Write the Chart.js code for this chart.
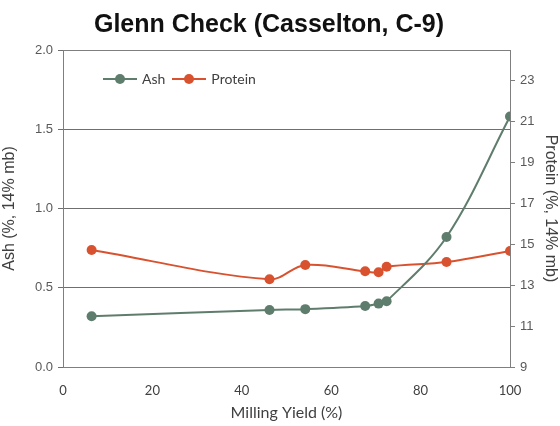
<!DOCTYPE html>
<html>
<head>
<meta charset="utf-8">
<script src="https://cdn.jsdelivr.net/npm/chart.js@4"></script>
<style>
  body { margin: 0; background: #fff; }
  #wrap { position: relative; width: 560px; height: 426px; }
  #title { position: absolute; left: 0; top: 9px; width: 538px; text-align: center;
           font: bold 25px "Liberation Sans", Arial, sans-serif; color: #111; }
  #legend { position: absolute; left: 103px; top: 70px; display: flex; align-items: center;
            font: 14px Lato, sans-serif; color: #404040; }
  .item { display: flex; align-items: center; margin-right: 7px; }
  .mark { position: relative; width: 34px; height: 2px; margin-right: 5px; }
  .mark span { position: absolute; left: 12px; top: -4px; width: 10px; height: 10px; border-radius: 50%; }
</style>
</head>
<body>
<div id="wrap">
  <canvas id="chart" width="560" height="426"></canvas>
  <div id="title">Glenn Check (Casselton, C-9)</div>
  <div id="legend"></div>
</div>
<script>
// dữ liệu
const millingYield = [6.4, 46.2, 54.2, 67.6, 70.6, 72.4, 85.8, 100];
const ashValues = [0.32, 0.36, 0.365, 0.385, 0.40, 0.415, 0.82, 1.58];
const proteinValues = [14.72, 13.29, 13.99, 13.68, 13.63, 13.90, 14.13, 14.67];
const xTicks = [0, 20, 40, 60, 80, 100];
const ashTicks = [0, 0.5, 1.0, 1.5, 2.0];
const proteinTicks = [9, 11, 13, 15, 17, 19, 21, 23];

const ashColor = '#5f7d6c';
const proteinColor = '#d9522f';
const axisGray = '#7f7f7f';

function toPoints(xs, ys) {
    return xs.map((x, i) => ({ x: x, y: ys[i] }));
}

const datasets = [
    {
        label: 'Ash',
        data: toPoints(millingYield, ashValues),
        yAxisID: 'y',
        borderColor: ashColor,
        backgroundColor: ashColor,
        borderWidth: 2,
        pointRadius: 5,
        pointBorderWidth: 0,
        tension: 0.35
    },
    {
        label: 'Protein',
        data: toPoints(millingYield, proteinValues),
        yAxisID: 'y2',
        borderColor: proteinColor,
        backgroundColor: proteinColor,
        borderWidth: 2,
        pointRadius: 5,
        pointBorderWidth: 0,
        tension: 0.35
    }
];

function fixTicks(values) {
    return function(scale) {
        scale.ticks = values.map(v => ({ value: v }));
    };
}

const grayTick = { family: '"Liberation Sans", Arial, sans-serif', size: 13 };

const chart = new Chart(document.getElementById('chart'), {
    type: 'line',
    data: { datasets: datasets },
    options: {
        responsive: false,
        animation: false,
        layout: { padding: { top: 50, left: 0, right: 0, bottom: 0 } },
        plugins: { legend: { display: false }, tooltip: { enabled: false } },
        scales: {
            x: {
                type: 'linear',
                min: 0, max: 100,
                afterBuildTicks: fixTicks(xTicks),
                afterFit: s => { s.height = 59; },
                grid: { display: false },
                border: { display: true, color: axisGray, width: 1 },
                ticks: { color: '#404040', font: { family: 'Lato, sans-serif', size: 13 }, padding: 8, maxRotation: 0 },
                title: { display: true, text: 'Milling Yield (%)', color: '#404040',
                         font: { family: 'Lato, sans-serif', size: 16 }, padding: { top: 2 } }
            },
            xTop: {
                type: 'linear',
                position: 'top',
                min: 0, max: 100,
                afterFit: s => { s.height = 0; },
                grid: { display: false },
                border: { display: true, color: axisGray, width: 1 },
                ticks: { display: false }
            },
            y: {
                position: 'left',
                min: 0, max: 2,
                afterBuildTicks: fixTicks(ashTicks),
                afterFit: s => { s.width = 63; },
                grid: { color: '#6f6f6f', lineWidth: 1, tickLength: 5 },
                border: { display: true, color: axisGray, width: 1 },
                ticks: { color: '#595959', font: grayTick, padding: 5, callback: v => v.toFixed(1) },
                title: { display: true, text: 'Ash (%, 14% mb)', color: '#404040',
                         font: { family: '"Liberation Sans", Arial, sans-serif', size: 16 }, padding: 0 }
            },
            y2: {
                position: 'right',
                min: 9, max: 24.5,
                afterBuildTicks: fixTicks(proteinTicks),
                afterFit: s => { s.width = 50; },
                grid: { drawOnChartArea: false, color: axisGray, tickLength: 5 },
                border: { display: true, color: axisGray, width: 1 },
                ticks: { color: '#595959', font: grayTick, padding: 5 },
                title: { display: true, text: 'Protein (%, 14% mb)', color: '#404040',
                         font: { family: '"Liberation Sans", Arial, sans-serif', size: 16 }, padding: 0 }
            }
        }
    }
});

// legend kiểu Excel: đường + chấm
const legendEl = document.getElementById('legend');
datasets.forEach(ds => {
    const item = document.createElement('div');
    item.className = 'item';
    const mark = document.createElement('div');
    mark.className = 'mark';
    mark.style.background = ds.borderColor;
    const dot = document.createElement('span');
    dot.style.background = ds.borderColor;
    mark.appendChild(dot);
    const txt = document.createElement('span');
    txt.textContent = ds.label;
    item.appendChild(mark);
    item.appendChild(txt);
    legendEl.appendChild(item);
});
</script>
</body>
</html>
